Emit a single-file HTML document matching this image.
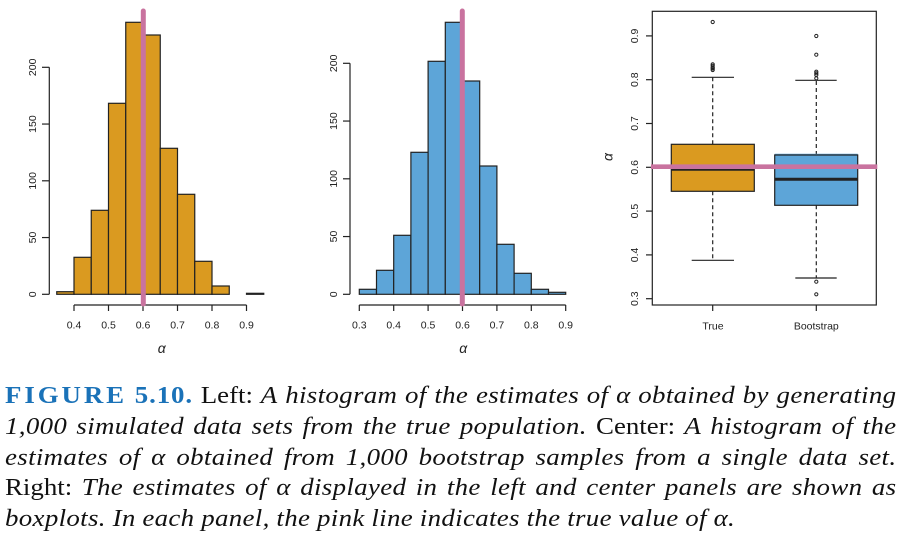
<!DOCTYPE html>
<html>
<head>
<meta charset="utf-8">
<style>
  html,body{margin:0;padding:0;background:#fff;}
  body{width:910px;height:536px;position:relative;overflow:hidden;}
  svg{position:absolute;left:0;top:0;}
  .ln{position:absolute;left:5px;display:flex;justify-content:space-between;align-items:baseline;
      font-family:"Liberation Serif","DejaVu Serif",serif;font-size:24px;line-height:24px;white-space:nowrap;color:#111;
      transform:scaleX(1.12);transform-origin:0 0;}
  .i{font-style:italic;letter-spacing:0.3px;}
  .r{letter-spacing:0px;}
  .b{font-weight:bold;color:#1a72b8;}
  .t{font-family:"Liberation Sans",sans-serif;font-size:10.5px;fill:#222;}
  .al{font-family:"Liberation Sans",sans-serif;font-style:italic;font-size:14px;fill:#222;}
</style>
</head>
<body>
<svg width="910" height="370" viewBox="0 0 910 370" xmlns="http://www.w3.org/2000/svg">
  <!-- LEFT HISTOGRAM -->
  <g fill="#da9a20" stroke="#222" stroke-width="1.2">
    <rect x="56.75" y="291.7" width="17.25" height="2.6"/>
    <rect x="74" y="257.3" width="17.25" height="37"/>
    <rect x="91.25" y="210.3" width="17.25" height="84"/>
    <rect x="108.5" y="103.3" width="17.25" height="191"/>
    <rect x="125.75" y="22.3" width="17.25" height="272"/>
    <rect x="143" y="35" width="17.25" height="259.3"/>
    <rect x="160.25" y="148.3" width="17.25" height="146"/>
    <rect x="177.5" y="194.3" width="17.25" height="100"/>
    <rect x="194.75" y="261.3" width="17.25" height="33"/>
    <rect x="212" y="286" width="17.25" height="8.3"/>
    <rect x="246.5" y="293.3" width="17.25" height="1"/>
  </g>
  <g stroke="#222" stroke-width="1.2" fill="none">
    <line x1="49.3" y1="294.3" x2="49.3" y2="67.3"/>
    <line x1="42" y1="294.3" x2="49.3" y2="294.3"/>
    <line x1="42" y1="237.55" x2="49.3" y2="237.55"/>
    <line x1="42" y1="180.8" x2="49.3" y2="180.8"/>
    <line x1="42" y1="124.05" x2="49.3" y2="124.05"/>
    <line x1="42" y1="67.3" x2="49.3" y2="67.3"/>
    <line x1="74" y1="305" x2="246.5" y2="305"/>
    <line x1="74" y1="305" x2="74" y2="311"/>
    <line x1="108.5" y1="305" x2="108.5" y2="311"/>
    <line x1="143" y1="305" x2="143" y2="311"/>
    <line x1="177.5" y1="305" x2="177.5" y2="311"/>
    <line x1="212" y1="305" x2="212" y2="311"/>
    <line x1="246.5" y1="305" x2="246.5" y2="311"/>
  </g>
  <g class="t" text-anchor="middle">
    <text transform="translate(36,294.3) rotate(-90)">0</text>
    <text transform="translate(36,237.55) rotate(-90)">50</text>
    <text transform="translate(36,180.8) rotate(-90)">100</text>
    <text transform="translate(36,124.05) rotate(-90)">150</text>
    <text transform="translate(36,67.3) rotate(-90)">200</text>
    <text x="74" y="328.5">0.4</text>
    <text x="108.5" y="328.5">0.5</text>
    <text x="143" y="328.5">0.6</text>
    <text x="177.5" y="328.5">0.7</text>
    <text x="212" y="328.5">0.8</text>
    <text x="246.5" y="328.5">0.9</text>
  </g>
  <text class="al" x="161.7" y="353" text-anchor="middle">α</text>
  <line x1="143.3" y1="11" x2="143.3" y2="304" stroke="#c9739f" stroke-width="5" stroke-linecap="round"/>

  <!-- CENTER HISTOGRAM -->
  <g fill="#5da5d8" stroke="#222" stroke-width="1.2">
    <rect x="359.3" y="289.3" width="17.2" height="5"/>
    <rect x="376.5" y="270.3" width="17.2" height="24"/>
    <rect x="393.7" y="235.3" width="17.2" height="59"/>
    <rect x="410.9" y="152.3" width="17.2" height="142"/>
    <rect x="428.1" y="61.3" width="17.2" height="233"/>
    <rect x="445.3" y="22.3" width="17.2" height="272"/>
    <rect x="462.5" y="81" width="17.2" height="213.3"/>
    <rect x="479.7" y="166" width="17.2" height="128.3"/>
    <rect x="496.9" y="244.3" width="17.2" height="50"/>
    <rect x="514.1" y="273.3" width="17.2" height="21"/>
    <rect x="531.3" y="289.3" width="17.2" height="5"/>
    <rect x="548.5" y="292.3" width="17.2" height="2"/>
  </g>
  <g stroke="#222" stroke-width="1.2" fill="none">
    <line x1="350" y1="294.3" x2="350" y2="63.3"/>
    <line x1="343" y1="294.3" x2="350" y2="294.3"/>
    <line x1="343" y1="236.55" x2="350" y2="236.55"/>
    <line x1="343" y1="178.8" x2="350" y2="178.8"/>
    <line x1="343" y1="121.05" x2="350" y2="121.05"/>
    <line x1="343" y1="63.3" x2="350" y2="63.3"/>
    <line x1="359.3" y1="305" x2="565.7" y2="305"/>
    <line x1="359.3" y1="305" x2="359.3" y2="311"/>
    <line x1="393.7" y1="305" x2="393.7" y2="311"/>
    <line x1="428.1" y1="305" x2="428.1" y2="311"/>
    <line x1="462.5" y1="305" x2="462.5" y2="311"/>
    <line x1="496.9" y1="305" x2="496.9" y2="311"/>
    <line x1="531.3" y1="305" x2="531.3" y2="311"/>
    <line x1="565.7" y1="305" x2="565.7" y2="311"/>
  </g>
  <g class="t" text-anchor="middle">
    <text transform="translate(337,294.3) rotate(-90)">0</text>
    <text transform="translate(337,236.55) rotate(-90)">50</text>
    <text transform="translate(337,178.8) rotate(-90)">100</text>
    <text transform="translate(337,121.05) rotate(-90)">150</text>
    <text transform="translate(337,63.3) rotate(-90)">200</text>
    <text x="359.3" y="328.5">0.3</text>
    <text x="393.7" y="328.5">0.4</text>
    <text x="428.1" y="328.5">0.5</text>
    <text x="462.5" y="328.5">0.6</text>
    <text x="496.9" y="328.5">0.7</text>
    <text x="531.3" y="328.5">0.8</text>
    <text x="565.7" y="328.5">0.9</text>
  </g>
  <text class="al" x="463.3" y="353" text-anchor="middle">α</text>
  <line x1="462.3" y1="11" x2="462.3" y2="304" stroke="#c9739f" stroke-width="5" stroke-linecap="round"/>

  <!-- BOXPLOTS -->
  <g stroke="#222" stroke-width="1.2" fill="none">
    <line x1="712.7" y1="144.3" x2="712.7" y2="77.3" stroke-dasharray="4,3"/>
    <line x1="712.7" y1="191.3" x2="712.7" y2="260.3" stroke-dasharray="4,3"/>
    <line x1="691.7" y1="77.3" x2="734" y2="77.3"/>
    <line x1="691.7" y1="260.3" x2="734" y2="260.3"/>
    <line x1="816.3" y1="155" x2="816.3" y2="80.3" stroke-dasharray="4,3"/>
    <line x1="816.3" y1="205.3" x2="816.3" y2="278" stroke-dasharray="4,3"/>
    <line x1="795.3" y1="80.3" x2="836.7" y2="80.3"/>
    <line x1="795.3" y1="278" x2="836.7" y2="278"/>
  </g>
  <rect x="671.3" y="144.3" width="83" height="47" fill="#da9a20" stroke="#222" stroke-width="1.2"/>
  <line x1="671.3" y1="169.3" x2="754.3" y2="169.3" stroke="#222" stroke-width="3"/>
  <line x1="774.7" y1="154.2" x2="857.7" y2="154.2" stroke="#5da5d8" stroke-width="1"/>
  <rect x="774.7" y="155" width="83" height="50.3" fill="#5da5d8" stroke="#222" stroke-width="1.2"/>
  <line x1="774.7" y1="179.3" x2="857.7" y2="179.3" stroke="#222" stroke-width="3"/>
  <g fill="none" stroke="#222" stroke-width="1">
    <circle cx="712.7" cy="22" r="1.6"/>
    <circle cx="712.7" cy="64.3" r="1.6"/>
    <circle cx="712.7" cy="65.8" r="1.6"/>
    <circle cx="712.7" cy="67.5" r="1.6"/>
    <circle cx="712.7" cy="68.5" r="1.6"/>
    <circle cx="712.7" cy="70" r="1.6"/>
    <circle cx="816.3" cy="36" r="1.6"/>
    <circle cx="816.3" cy="54.7" r="1.6"/>
    <circle cx="816.3" cy="71.7" r="1.6"/>
    <circle cx="816.3" cy="73.3" r="1.6"/>
    <circle cx="816.3" cy="75" r="1.6"/>
    <circle cx="816.3" cy="78.3" r="1.6"/>
    <circle cx="816.3" cy="281.7" r="1.6"/>
    <circle cx="816.3" cy="294.3" r="1.6"/>
  </g>
  <rect x="652.3" y="11.3" width="224" height="293.7" fill="none" stroke="#222" stroke-width="1.2"/>
  <g stroke="#222" stroke-width="1.2">
    <line x1="646" y1="298.7" x2="652.3" y2="298.7"/>
    <line x1="646" y1="254.9" x2="652.3" y2="254.9"/>
    <line x1="646" y1="211.1" x2="652.3" y2="211.1"/>
    <line x1="646" y1="167.3" x2="652.3" y2="167.3"/>
    <line x1="646" y1="123.5" x2="652.3" y2="123.5"/>
    <line x1="646" y1="79.7" x2="652.3" y2="79.7"/>
    <line x1="646" y1="35.9" x2="652.3" y2="35.9"/>
    <line x1="712.7" y1="305" x2="712.7" y2="311"/>
    <line x1="816.3" y1="305" x2="816.3" y2="311"/>
  </g>
  <g class="t" text-anchor="middle">
    <text transform="translate(638,298.7) rotate(-90)">0.3</text>
    <text transform="translate(638,254.9) rotate(-90)">0.4</text>
    <text transform="translate(638,211.1) rotate(-90)">0.5</text>
    <text transform="translate(638,167.3) rotate(-90)">0.6</text>
    <text transform="translate(638,123.5) rotate(-90)">0.7</text>
    <text transform="translate(638,79.7) rotate(-90)">0.8</text>
    <text transform="translate(638,35.9) rotate(-90)">0.9</text>
    <text x="713" y="329.3">True</text>
    <text x="816.3" y="329.3">Bootstrap</text>
  </g>
  <text class="al" transform="translate(612.5,157) rotate(-90)" text-anchor="middle">α</text>
  <line x1="651" y1="166.7" x2="877.3" y2="166.7" stroke="#c9739f" stroke-width="4.6"/>
</svg>

<div class="ln" style="top:384px;width:796px;">
  <span class="b" style="letter-spacing:2.6px;">FIGURE</span><span class="b" style="letter-spacing:0.8px;">5.10.</span><span class="r">Left:</span><span class="i">A</span><span class="i">histogram</span><span class="i">of</span><span class="i">the</span><span class="i">estimates</span><span class="i">of</span><span class="i">α</span><span class="i">obtained</span><span class="i">by</span><span class="i">generating</span>
</div>
<div class="ln" style="top:415px;width:796px;">
  <span class="i">1,000</span><span class="i">simulated</span><span class="i">data</span><span class="i">sets</span><span class="i">from</span><span class="i">the</span><span class="i">true</span><span class="i">population.</span><span class="r">Center:</span><span class="i">A</span><span class="i">histogram</span><span class="i">of</span><span class="i">the</span>
</div>
<div class="ln" style="top:445.5px;width:796px;">
  <span class="i">estimates</span><span class="i">of</span><span class="i">α</span><span class="i">obtained</span><span class="i">from</span><span class="i">1,000</span><span class="i">bootstrap</span><span class="i">samples</span><span class="i">from</span><span class="i">a</span><span class="i">single</span><span class="i">data</span><span class="i">set.</span>
</div>
<div class="ln" style="top:476px;width:796px;">
  <span class="r">Right:</span><span class="i">The</span><span class="i">estimates</span><span class="i">of</span><span class="i">α</span><span class="i">displayed</span><span class="i">in</span><span class="i">the</span><span class="i">left</span><span class="i">and</span><span class="i">center</span><span class="i">panels</span><span class="i">are</span><span class="i">shown</span><span class="i">as</span>
</div>
<div class="ln" style="top:506.5px;width:652px;">
  <span class="i">boxplots.</span><span class="i">In</span><span class="i">each</span><span class="i">panel,</span><span class="i">the</span><span class="i">pink</span><span class="i">line</span><span class="i">indicates</span><span class="i">the</span><span class="i">true</span><span class="i">value</span><span class="i">of</span><span class="i">α.</span>
</div>
</body>
</html>
